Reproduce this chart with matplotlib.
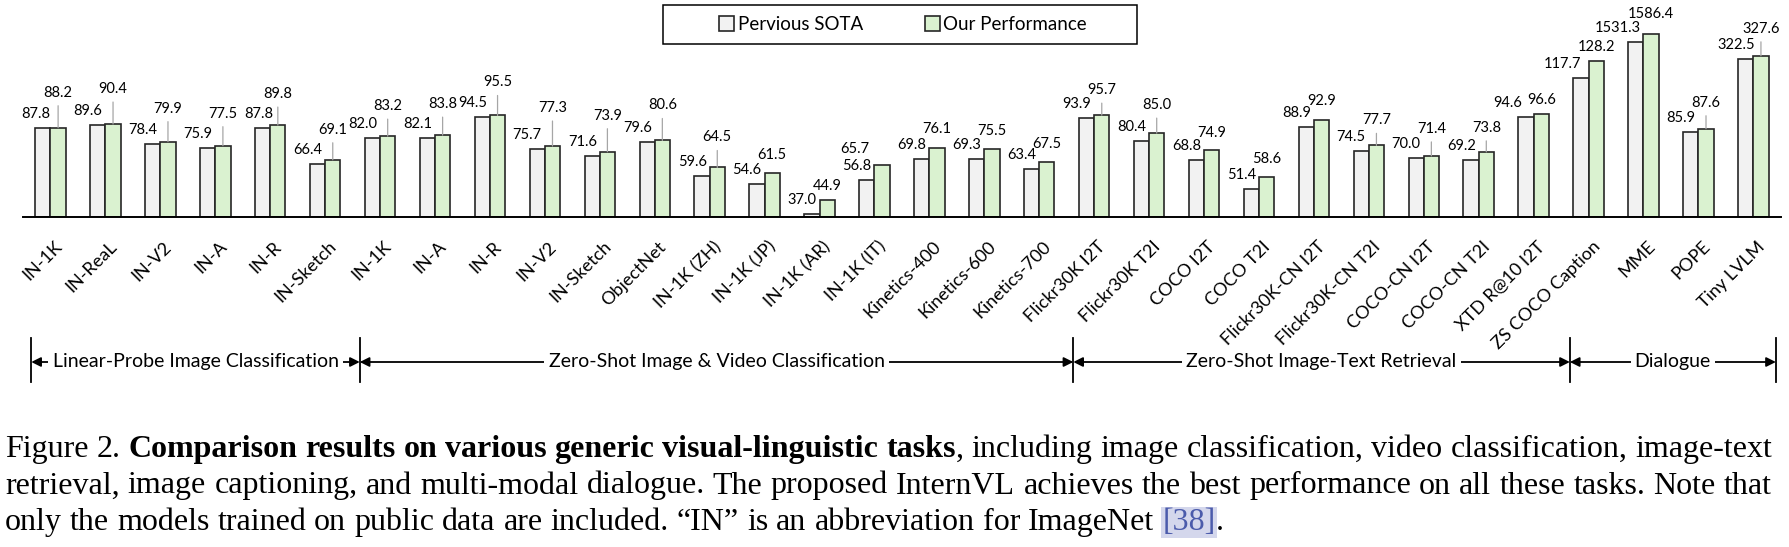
import matplotlib
matplotlib.use("Agg")
import matplotlib.pyplot as plt
import numpy as np
from matplotlib.patches import Patch, Rectangle
from matplotlib.transforms import blended_transform_factory

plt.rcParams['font.family'] = ['Lato', 'DejaVu Sans']

# Data
tasks = ['IN-1K', 'IN-ReaL', 'IN-V2', 'IN-A', 'IN-R', 'IN-Sketch',
         'IN-1K', 'IN-A', 'IN-R', 'IN-V2', 'IN-Sketch', 'ObjectNet',
         'IN-1K (ZH)', 'IN-1K (JP)', 'IN-1K (AR)', 'IN-1K (IT)',
         'Kinetics-400', 'Kinetics-600', 'Kinetics-700',
         'Flickr30K I2T', 'Flickr30K T2I', 'COCO I2T', 'COCO T2I',
         'Flickr30K-CN I2T', 'Flickr30K-CN T2I', 'COCO-CN I2T', 'COCO-CN T2I',
         'XTD R@10 I2T', 'ZS COCO Caption', 'MME', 'POPE', 'Tiny LVLM']
prev_sota = [87.8, 89.6, 78.4, 75.9, 87.8, 66.4, 82.0, 82.1, 94.5, 75.7, 71.6,
             79.6, 59.6, 54.6, 37.0, 56.8, 69.8, 69.3, 63.4, 93.9, 80.4, 68.8,
             51.4, 88.9, 74.5, 70.0, 69.2, 94.6, 117.7, 1531.3, 85.9, 322.5]
ours = [88.2, 90.4, 79.9, 77.5, 89.8, 69.1, 83.2, 83.8, 95.5, 77.3, 73.9,
        80.6, 64.5, 61.5, 44.9, 65.7, 76.1, 75.5, 67.5, 95.7, 85.0, 74.9,
        58.6, 92.9, 77.7, 71.4, 73.8, 96.6, 128.2, 1586.4, 87.6, 327.6]
# MME and Tiny LVLM are drawn on a shrunk scale
bar_scale = [1.0] * 29 + [1 / 11, 1.0, 1 / 2.5]

sections = ['Linear-Probe Image Classification',
            'Zero-Shot Image & Video Classification',
            'Zero-Shot Image-Text Retrieval', 'Dialogue']
section_edges = [-0.35, 5.63, 18.62, 27.66, 31.41]

# how far (px) the green labels sit above their bars
green_lift = [35, 35, 33, 32, 31, 30, 30, 31, 33, 38, 36, 35, 30, 18, 14, 16,
              19, 18, 18, 25, 28, 17, 18, 19, 25, 27, 24, 14, 14, 20, 26, 27]
green_shift = {15: -27}
prev_shift = {0: 0, 4: 3, 27: -11, 28: -7, 31: 2}

grey_face = '#f2f2f2'
green_face = '#daf2d0'
edge = '#262626'

fig = plt.figure(figsize=(17.9, 5.47), dpi=100)
ax = fig.add_axes([0, 1 - 217 / 547, 1, 217 / 547])
base = 35
ax.set_xlim(-50.5 / 54.93, (1790 - 50.5) / 54.93)
ax.set_ylim(base, base + 217 / 1.678)
for s in ax.spines.values():
    s.set_visible(False)
ax.set_yticks([])

x = np.arange(len(tasks))
w = 0.277
prev_top = np.array(prev_sota) * np.array(bar_scale)
ours_top = np.array(ours) * np.array(bar_scale)
ax.bar(x - w / 2, prev_top - base, w, bottom=base, color=grey_face,
       edgecolor=edge, linewidth=1.2, zorder=3)
ax.bar(x + w / 2, ours_top - base, w, bottom=base, color=green_face,
       edgecolor=edge, linewidth=1.2, zorder=3)
ax.plot([-0.5, 31.5], [base, base], color='black', lw=1.4, clip_on=False, zorder=4)

ax.set_xticks(x + 0.16)
ax.set_xticklabels(tasks, rotation=45, ha='right', va='center',
                   rotation_mode='anchor', fontsize=13)
ax.tick_params(axis='x', length=0, pad=19.5)

# value labels
for i in range(len(tasks)):
    ax.annotate(f"{prev_sota[i]:.1f}", xy=(x[i], prev_top[i]),
                xytext=(prev_shift.get(i, -3), 14),
                textcoords='offset pixels', ha='right', va='center', fontsize=10.5)
    gx = x[i] + w / 2
    lift = green_lift[i]
    ax.annotate(f"{ours[i]:.1f}", xy=(gx, ours_top[i]),
                xytext=(green_shift.get(i, 0), lift),
                textcoords='offset pixels', ha='center', va='center', fontsize=10.5)
    if lift > 22:
        ax.annotate('', xy=(gx, ours_top[i]), xytext=(0, lift - 13),
                    textcoords='offset pixels',
                    arrowprops=dict(arrowstyle='-', color='#a6a6a6', lw=0.9,
                                    shrinkA=0, shrinkB=0))

# task group brackets
tr = blended_transform_factory(ax.transData, fig.transFigure)
ya = 1 - 362 / 547
for e in section_edges:
    ax.plot([e, e], [1 - 382 / 547, 1 - 338 / 547], transform=tr,
            color='black', lw=1.3, clip_on=False)
for label, a, b in zip(sections, section_edges[:-1], section_edges[1:]):
    ax.annotate('', xy=(a, ya), xytext=(b, ya), xycoords=tr, textcoords=tr,
                arrowprops=dict(arrowstyle='<|-|>', color='black', lw=1.3,
                                shrinkA=0, shrinkB=0, mutation_scale=14))
    ax.text((a + b) / 2, ya, label, transform=tr, ha='center', va='center',
            fontsize=14, zorder=5,
            bbox=dict(facecolor='white', edgecolor='none', pad=3))

# legend
fig.patches.append(Rectangle((663 / 1790, 1 - 44 / 547), 474 / 1790, 39 / 547,
                             transform=fig.transFigure, fill=False,
                             edgecolor='black', lw=1.1))
handles = [Patch(facecolor=grey_face, edgecolor=edge, lw=1.2),
           Patch(facecolor=green_face, edgecolor=edge, lw=1.2)]
fig.legend(handles, ['Pervious SOTA', 'Our Performance'], loc='center',
           bbox_to_anchor=(903 / 1790, 1 - 24.5 / 547), ncol=2, frameon=False,
           fontsize=13.5, handlelength=0.8, handleheight=0.8, handletextpad=0.2,
           columnspacing=3.3)

# caption, justified word by word
def plain(s, st='n'):
    return [[(t, st)] for t in s.split()]

line1 = (plain("Figure 2.")
         + plain("Comparison results on various generic visual-linguistic", 'b')
         + [[("tasks", 'b'), (",", 'n')]]
         + plain("including image classification, video classification, image-text"))
line2 = plain("retrieval, image captioning, and multi-modal dialogue. The proposed "
              "InternVL achieves the best performance on all these tasks. Note that")
line3 = (plain("only the models trained on public data are included. \u201cIN\u201d is "
               "an abbreviation for ImageNet") + [[("[38]", 'c'), (".", 'n')]])

cap_size = 23
styles = {'n': dict(), 'b': dict(weight='bold'),
          'c': dict(color='#4b5bab',
                    bbox=dict(facecolor='#d4d7ec', edgecolor='none', pad=1))}
renderer = fig.canvas.get_renderer()


def width(txt, st):
    kw = {k: v for k, v in styles[st].items() if k != 'bbox'}
    t = fig.text(0, 0, txt, fontsize=cap_size, family='Liberation Serif', **kw)
    wd = t.get_window_extent(renderer).width
    t.remove()
    return wd


space = width("a a", 'n') - width("aa", 'n')
x0, x1 = 5, 1772
for line, ybase, justify in [(line1, 457, True), (line2, 493.5, True), (line3, 530, False)]:
    wds = [[width(t, st) for t, st in word] for word in line]
    total = sum(sum(ws) for ws in wds)
    gap = (x1 - x0 - total) / (len(line) - 1) if justify else space
    cx = x0
    for word, ws in zip(line, wds):
        for (t, st), wd in zip(word, ws):
            fig.text(cx / 1790, 1 - ybase / 547, t, fontsize=cap_size,
                     family='Liberation Serif', va='baseline', ha='left', **styles[st])
            cx += wd
        cx += gap

fig.savefig('out.png', dpi=100)
